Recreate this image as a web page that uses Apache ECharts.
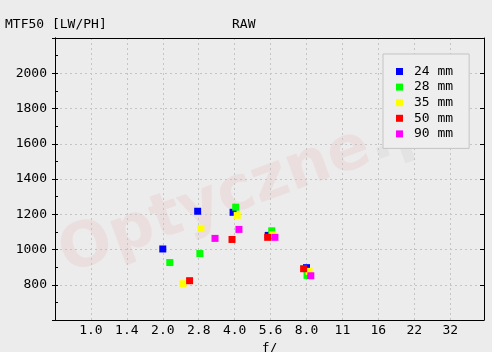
<!DOCTYPE html>
<html>
<head>
<meta charset="utf-8">
<script src="https://cdn.jsdelivr.net/npm/echarts@6/dist/echarts.min.js"></script>
<style>
  html, body { margin: 0; padding: 0; background: #ececec; }
  #chart { width: 492px; height: 352px; }
</style>
</head>
<body>
<div id="chart"></div>
<script>
// aperture tick labels (one per stop, starting at f/1.0)
const stopLabels = ['1.0', '1.4', '2.0', '2.8', '4.0', '5.6', '8.0', '11', '16', '22', '32']
const focalNames = ['24 mm', '28 mm', '35 mm', '50 mm', '90 mm']
const colors = ['#0000ff', '#00ff00', '#ffff00', '#ff0000', '#ff00ff']

// f-numbers and MTF50 values
const ap24 = [2.0, 2.8, 3.94, 5.53, 8.0]
const mtf24 = [1003, 1217, 1211, 1080, 897]
const ap28 = [2.14, 2.86, 4.04, 5.72, 8.04]
const mtf28 = [926, 977, 1240, 1106, 853]
const ap35 = [2.43, 2.89, 4.1, 5.78, 8.2]
const mtf35 = [806, 1120, 1194, 1083, 876]
const ap50 = [2.59, 3.9, 5.5, 7.78]
const mtf50 = [823, 1057, 1069, 891]
const ap90 = [3.31, 4.17, 5.9, 8.34]
const mtf90 = [1063, 1114, 1069, 851]

const apertures = [ap24, ap28, ap35, ap50, ap90]
const values = [mtf24, mtf28, mtf35, mtf50, mtf90]

const font = 'DejaVu Sans Mono'
const gridLine = { show: true, lineStyle: { color: '#c4c4c4', type: [2, 3], width: 1 } }

// f-number -> stops from f/1.0
const toStop = (f) => 2 * Math.log2(f)

const chart = echarts.init(document.getElementById('chart'), null, { renderer: 'canvas' })

const yBase = {
  type: 'value',
  min: 600,
  max: 2200,
  interval: 200,
  axisLine: { show: true, onZero: false, lineStyle: { color: '#000', width: 1 } },
}

chart.setOption({
  backgroundColor: '#ececec',
  animation: false,
  title: [
    { text: 'MTF50 [LW/PH]', left: 5, top: 18, padding: 0,
      textStyle: { fontFamily: font, fontSize: 13, fontWeight: 'normal', color: '#000' } },
    { text: 'RAW', left: 232, top: 18, padding: 0,
      textStyle: { fontFamily: font, fontSize: 13, fontWeight: 'normal', color: '#000' } },
  ],
  graphic: [
    {
      // watermark
      type: 'text',
      x: 62,
      y: 258,
      rotation: 0.35,
      z: 0,
      silent: true,
      style: {
        text: '{a|Optyczne}{b|.pl}',
        verticalAlign: 'middle',
        rich: {
          a: { font: 'bold 62px "DejaVu Sans"', fill: 'rgba(230, 40, 40, 0.07)' },
          b: { font: 'bold 62px "DejaVu Sans"', fill: 'rgba(0, 0, 0, 0.035)' },
        },
      },
    },
  ],
  legend: {
    orient: 'vertical',
    left: 383,
    top: 54,
    padding: [11, 16, 8, 13],
    itemGap: 2.6,
    itemWidth: 7,
    itemHeight: 7,
    icon: 'rect',
    backgroundColor: '#eeeeee',
    borderColor: '#c4c4c4',
    borderWidth: 1,
    textStyle: { fontFamily: font, fontSize: 13, color: '#000', lineHeight: 13, padding: [0, 0, 0, 6] },
    data: focalNames,
  },
  grid: {
    left: 55,
    top: 38,
    right: 8,
    bottom: 32,
    outerBoundsMode: 'none',
    containLabel: false,
  },
  xAxis: [
    {
      type: 'value',
      min: -1,
      max: 10.94,
      interval: 1,
      name: 'f/',
      nameLocation: 'middle',
      nameGap: 20,
      nameTextStyle: { fontFamily: font, fontSize: 13, color: '#000' },
      axisLine: { show: true, onZero: false, lineStyle: { color: '#000', width: 1 } },
      axisTick: { show: false },
      axisLabel: {
        margin: 4,
        fontFamily: font,
        fontSize: 13,
        color: '#000',
        showMaxLabel: false,
        formatter: (v) => (Number.isInteger(v) && stopLabels[v]) || '',
      },
      splitLine: gridLine,
    },
    {
      // top border
      type: 'value',
      position: 'top',
      min: -1,
      max: 10.94,
      axisLine: { show: true, onZero: false, lineStyle: { color: '#000', width: 1 } },
      axisTick: { show: false },
      axisLabel: { show: false },
      splitLine: { show: false },
    },
  ],
  yAxis: [
    {
      ...yBase,
      position: 'left',
      axisTick: { show: true, inside: false, length: 3, lineStyle: { color: '#000' } },
      axisLabel: {
        margin: 8,
        fontFamily: font,
        fontSize: 13,
        color: '#000',
        formatter: (v) => (v === 600 || v === 2200 ? '' : String(v)),
      },
      splitLine: gridLine,
    },
    {
      // inside minor ticks on the left
      ...yBase,
      position: 'left',
      axisTick: { show: true, inside: true, length: 3, lineStyle: { color: '#000' } },
      minorTick: { show: true, splitNumber: 2, length: 3, lineStyle: { color: '#000' } },
      axisLabel: { show: false },
      splitLine: { show: false },
    },
    {
      // right border with ticks
      ...yBase,
      position: 'right',
      axisTick: { show: true, inside: true, length: 4, lineStyle: { color: '#000' } },
      axisLabel: { show: false },
      splitLine: { show: false },
    },
  ],
  series: focalNames.map((name, i) => ({
    name,
    type: 'scatter',
    symbol: 'rect',
    symbolSize: 7,
    z: 3,
    itemStyle: { color: colors[i], opacity: 1 },
    data: apertures[i].map((f, j) => [toStop(f), values[i][j]]),
  })),
})
</script>
</body>
</html>
